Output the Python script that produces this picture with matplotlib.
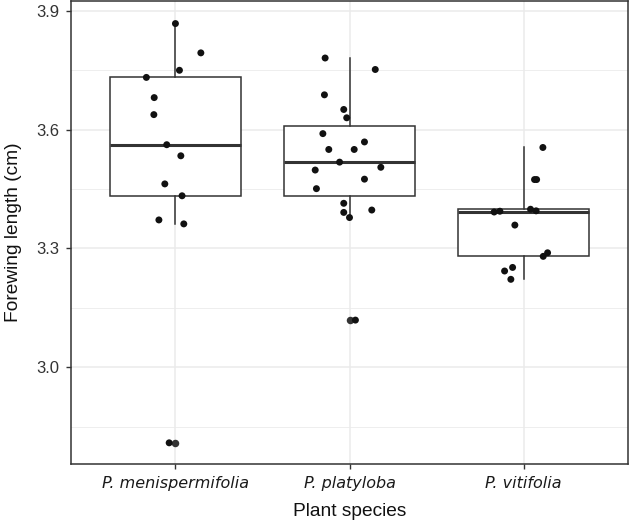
import numpy as np
import matplotlib
matplotlib.use('Agg')
import matplotlib.pyplot as plt

# Longueur des ailes antérieures par espèce de plante
especes = ['P. menispermifolia', 'P. platyloba', 'P. vitifolia']

menispermifolia = [3.868, 3.794, 3.750, 3.732, 3.681, 3.638, 3.562,
                   3.534, 3.463, 3.433, 3.372, 3.362, 2.809]
platyloba = [3.781, 3.752, 3.688, 3.651, 3.630, 3.590, 3.569, 3.550,
             3.550, 3.518, 3.505, 3.498, 3.475, 3.451, 3.414, 3.397,
             3.391, 3.378, 3.119]
vitifolia = [3.555, 3.474, 3.474, 3.399, 3.395, 3.392, 3.394, 3.359,
             3.289, 3.280, 3.252, 3.243, 3.222]

# Décalages horizontaux du jitter (en unités de catégorie)
jitter_menispermifolia = [0.0, 0.146, 0.023, -0.167, -0.122, -0.124, -0.05,
                          0.031, -0.061, 0.038, -0.095, 0.048, -0.036]
jitter_platyloba = [-0.14, 0.148, -0.144, -0.033, -0.016, -0.153, 0.086, -0.119,
                    0.027, -0.057, 0.18, -0.197, 0.086, -0.19, -0.033, 0.128,
                    -0.033, 0.0, 0.034]
jitter_vitifolia = [0.111, 0.063, 0.075, 0.04, 0.072, -0.169, -0.136, -0.05,
                    0.138, 0.113, -0.063, -0.109, -0.073]

donnees = [menispermifolia, platyloba, vitifolia]
jitters = [jitter_menispermifolia, jitter_platyloba, jitter_vitifolia]

gris = '#333333'
grille = '#EBEBEB'

fig = plt.figure(figsize=(6.3, 5.25), dpi=100)
ax = fig.add_axes([71 / 630, 61 / 525, 557 / 630, 463 / 525])

# Grille (style theme_bw)
ax.set_axisbelow(True)
ax.set_yticks([3.0, 3.3, 3.6, 3.9])
ax.set_yticks([2.85, 3.15, 3.45, 3.75], minor=True)
ax.grid(which='major', color=grille, linewidth=1.1)
ax.grid(which='minor', axis='y', color=grille, linewidth=0.6)

# Boîtes à moustaches
positions = np.arange(1, len(especes) + 1)
ax.boxplot(donnees, positions=positions, widths=0.75, patch_artist=True,
           showcaps=False, whis=1.5,
           boxprops=dict(facecolor='white', edgecolor=gris, linewidth=1.1),
           medianprops=dict(color=gris, linewidth=2.2),
           whiskerprops=dict(color=gris, linewidth=1.1),
           flierprops=dict(marker='o', markerfacecolor=gris, markeredgecolor='none',
                           markersize=5.4),
           zorder=2)

# Points avec jitter
for i, (valeurs, dx) in enumerate(zip(donnees, jitters)):
    x = positions[i] + np.array(dx)
    ax.scatter(x, valeurs, s=25, color='#111111', edgecolors='none', zorder=3)

ax.set_xlim(0.4, 3.6)
ax.set_ylim(2.7555, 3.925)

ax.set_xticks(positions)
ax.set_xticklabels(especes, fontstyle='italic', family='DejaVu Sans',
                   fontsize=11.5, color='#1a1a1a')
ax.set_yticklabels(['3.0', '3.3', '3.6', '3.9'], family='Liberation Sans',
                   fontsize=12, color='#333333')

for spine in ax.spines.values():
    spine.set_color(gris)
    spine.set_linewidth(1.1)

ax.tick_params(axis='both', which='major', length=3.5, width=1.0, color=gris)
ax.tick_params(axis='x', which='major', pad=5)
ax.tick_params(axis='y', which='major', pad=5)
ax.tick_params(axis='y', which='minor', length=0)

ax.set_xlabel('Plant species', family='Liberation Sans', fontsize=13.8,
              color='#111111', labelpad=9)
ax.set_ylabel('Forewing length (cm)', family='Liberation Sans', fontsize=13.8,
              color='#111111', labelpad=10)

fig.savefig('out.png', dpi=100)
